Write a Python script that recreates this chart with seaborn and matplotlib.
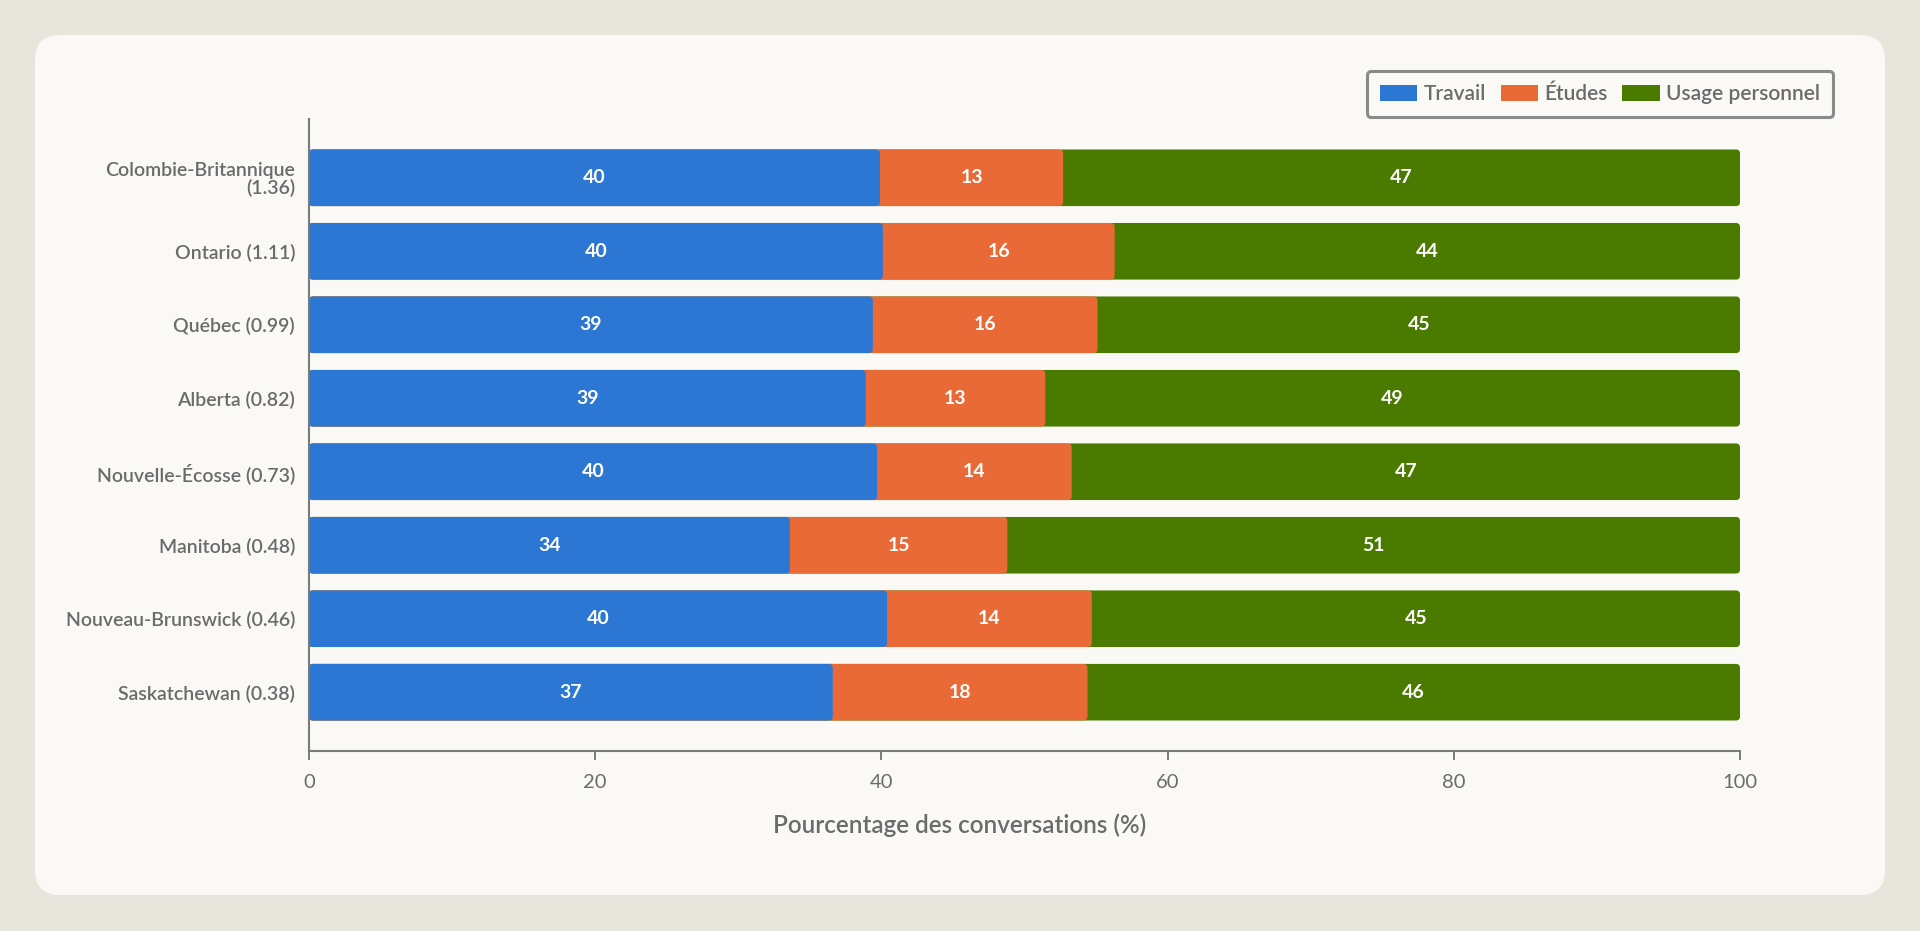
import matplotlib
matplotlib.use("Agg")
import matplotlib.pyplot as plt
from matplotlib.patches import FancyBboxPatch, Patch, Rectangle
import seaborn as sns
import pandas as pd
import numpy as np

# ---------------- data ----------------
provinces = [
    "Colombie-Britannique\n(1.36)",
    "Ontario (1.11)",
    "Québec (0.99)",
    "Alberta (0.82)",
    "Nouvelle-Écosse (0.73)",
    "Manitoba (0.48)",
    "Nouveau-Brunswick (0.46)",
    "Saskatchewan (0.38)",
]
travail = [39.9, 40.1, 39.4, 38.9, 39.7, 33.6, 40.4, 36.6]
etudes = [12.8, 16.2, 15.7, 12.55, 13.6, 15.2, 14.3, 17.8]
personnel = [47.3, 43.7, 44.9, 48.55, 46.7, 51.2, 45.3, 45.6]
series_names = ["Travail", "Études", "Usage personnel"]
xticks = [0, 20, 40, 60, 80, 100]
xlabel = "Pourcentage des conversations (%)"

# ---------------- style ----------------
colors = ["#2B77D3", "#EA6A37", "#4A7B00"]
outer_bg = "#E8E6DC"
card_bg = "#FAF9F5"
text_col = "#6B6B6B"
axis_col = "#7A7A7A"

sns.set_style("white")
plt.rcParams["font.family"] = ["Lato", "DejaVu Sans"]

W, H = 1920, 931
fig = plt.figure(figsize=(W / 100, H / 100), dpi=100)
fig.patch.set_facecolor(outer_bg)

# card
card = FancyBboxPatch((35 / W, 1 - 895 / H), (1885 - 35) / W, (895 - 35) / H,
                      boxstyle="round,pad=0,rounding_size=0.013",
                      mutation_aspect=W / H, transform=fig.transFigure,
                      fc=card_bg, ec="none", zorder=-5)
fig.patches.append(card)

ax = fig.add_axes([309 / W, 1 - 751 / H, (1740 - 309) / W, (751 - 119) / H])
ax.set_facecolor(card_bg)
ax.patch.set_alpha(0)

df = pd.DataFrame({"province": provinces,
                   "Travail": travail, "Études": etudes, "Usage personnel": personnel})
vals = df[series_names].to_numpy()
cum = np.cumsum(vals, axis=1)
starts = cum - vals

# draw cumulative bars from the longest to the shortest
for i in [2, 1, 0]:
    d = pd.DataFrame({"province": provinces, "x": cum[:, i]})
    sns.barplot(data=d, y="province", x="x", orient="h", color=colors[i],
                saturation=1, width=0.77, ax=ax, zorder=2)

# replace rectangles with slightly rounded ones
x_px_per_unit = (1740 - 309) / 100
y_px_per_unit = (751 - 119) / 8.6
aspect = x_px_per_unit / y_px_per_unit
rects = [p for p in ax.patches if isinstance(p, Rectangle) and p is not ax.patch]
for r in rects:
    fb = FancyBboxPatch((r.get_x(), r.get_y()), r.get_width(), r.get_height(),
                        boxstyle=f"round,pad=0,rounding_size={4 / x_px_per_unit}",
                        mutation_aspect=aspect, fc=r.get_facecolor(), ec="none", zorder=2)
    r.remove()
    ax.add_patch(fb)

# segment labels
for j in range(len(provinces)):
    for i in range(3):
        ax.text(starts[j, i] + vals[j, i] / 2, j, f"{vals[j, i]:.0f}",
                ha="center", va="center", color="white", fontsize=14,
                fontweight="bold", zorder=3)

ax.set_xlim(0, 100)
ax.set_ylim(len(provinces) - 1 + 0.8, -0.8)
ax.set_xticks(xticks)
ax.set_xticklabels([str(t) for t in xticks])
ax.set_xlabel("")
ax.set_ylabel("")
for s in ["top", "right"]:
    ax.spines[s].set_visible(False)
for s in ["left", "bottom"]:
    ax.spines[s].set_color(axis_col)
    ax.spines[s].set_linewidth(1.5)
ax.tick_params(axis="x", length=6.5, width=1.4, color=axis_col, labelsize=14.5,
               labelcolor=text_col, pad=10, bottom=True)
ax.tick_params(axis="y", length=0, pad=10, labelsize=14, labelcolor=text_col)
for lab in ax.get_yticklabels():
    lab.set_fontweight("semibold")
    lab.set_linespacing(1.0)
    lab.set_multialignment("right")

fig.text(0.5, 1 - 825 / H, xlabel, ha="center", va="center",
         fontsize=17.5, color=text_col, fontweight="semibold")

handles = [Patch(facecolor=c, edgecolor="none") for c in colors]
leg = fig.legend(handles, series_names, loc="upper right",
                 bbox_to_anchor=(1833 / W, 1 - 71 / H), ncol=3, frameon=True,
                 fontsize=15, handlelength=1.8, handleheight=0.8,
                 handletextpad=0.3, columnspacing=0.7, borderpad=0.62,
                 borderaxespad=0, fancybox=True, framealpha=1)
frame = leg.get_frame()
frame.set_edgecolor("#8A8A8A")
frame.set_linewidth(2.2)
frame.set_facecolor(card_bg)
for t in leg.get_texts():
    t.set_color(text_col)
    t.set_fontweight("semibold")

fig.savefig("out.png", dpi=100, facecolor=fig.get_facecolor())
